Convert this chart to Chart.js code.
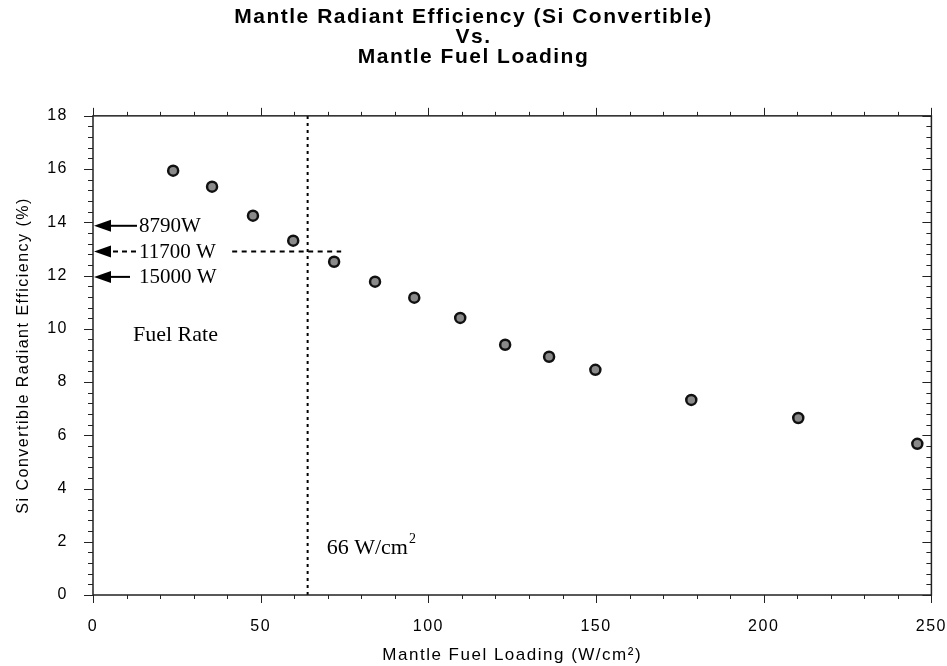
<!DOCTYPE html>
<html>
<head>
<meta charset="utf-8">
<script src="https://cdn.jsdelivr.net/npm/chart.js@4/dist/chart.umd.min.js"></script>
<style>
  html, body { margin: 0; padding: 0; background: #fff; }
  #wrap { width: 947px; height: 666px; }
</style>
</head>
<body>
<div id="wrap"><canvas id="chart" width="947" height="666"></canvas></div>
<script>
// measured points
const fuelLoading = [23.9, 35.5, 47.7, 59.7, 71.9, 84.1, 95.8, 109.5, 122.9, 136.0, 149.8, 178.4, 210.3, 245.8];
const efficiency  = [15.94, 15.34, 14.25, 13.31, 12.52, 11.77, 11.17, 10.41, 9.40, 8.95, 8.46, 7.33, 6.65, 5.68];

// reference lines
const loadingMark = 64;        // 66 W/cm2 line
const fuelRateLevel = 12.9;    // 11700 W level
const fuelRateLabels = ['8790W', '11700 W', '15000 W'];
const fuelRateValues = [13.87, 12.9, 11.95];

const titleLines = ['Mantle Radiant Efficiency (Si Convertible)', 'Vs.', 'Mantle Fuel Loading'];
const xTitle = 'Mantle Fuel Loading (W/cm\u00B2)';
const yTitle = 'Si Convertible Radiant Efficiency (%)';

const sans = 'Arial, "Liberation Sans", sans-serif';
const serif = '"Times New Roman", "Liberation Serif", serif';

const points = fuelLoading.map((x, i) => ({ x: x, y: efficiency[i] }));

// wide letter spacing like the original print
const spacing = {
    id: 'spacing',
    beforeUpdate(chart) { chart.ctx.letterSpacing = '1.5px'; },
    beforeDraw(chart) { chart.ctx.letterSpacing = '1.5px'; }
};

// frame + tick marks + text notes
const extras = {
    id: 'extras',
    afterDraw(chart) {
        const ctx = chart.ctx;
        const xs = chart.scales.x, ys = chart.scales.y;
        const a = chart.chartArea;
        ctx.save();
        ctx.letterSpacing = '0px';
        ctx.strokeStyle = '#222';
        ctx.lineWidth = 1.5;
        ctx.strokeRect(a.left, a.top, a.right - a.left, a.bottom - a.top);

        ctx.lineWidth = 1;
        ctx.beginPath();
        for (let v = 0; v <= 250; v += 10) {
            const px = Math.round(xs.getPixelForValue(v)) + 0.5;
            const len = v % 50 === 0 ? 8 : 4;
            ctx.moveTo(px, a.bottom); ctx.lineTo(px, a.bottom + len);
            ctx.moveTo(px, a.top); ctx.lineTo(px, a.top - len);
        }
        for (let k = 0; k <= 45; k++) {
            const v = k * 0.4;
            const py = Math.round(ys.getPixelForValue(v)) + 0.5;
            const len = k % 5 === 0 ? 9 : 5;
            ctx.moveTo(a.left, py); ctx.lineTo(a.left - len, py);
            ctx.moveTo(a.right, py); ctx.lineTo(a.right - len, py);
        }
        ctx.stroke();

        // fuel rate arrows
        ctx.fillStyle = '#000';
        ctx.strokeStyle = '#000';
        ctx.font = '21px ' + serif;
        ctx.textBaseline = 'middle';
        ctx.textAlign = 'left';
        const tip = a.left + 1;
        fuelRateValues.forEach((v, i) => {
            const py = ys.getPixelForValue(v);
            ctx.beginPath();
            ctx.moveTo(tip, py);
            ctx.lineTo(tip + 17, py - 6);
            ctx.lineTo(tip + 17, py + 6);
            ctx.closePath();
            ctx.fill();
            ctx.lineWidth = 2;
            ctx.beginPath();
            if (i === 1) {
                ctx.setLineDash([5, 4]);
                ctx.moveTo(tip + 19, py); ctx.lineTo(tip + 42, py);
            } else {
                ctx.setLineDash([]);
                ctx.moveTo(tip + 16, py); ctx.lineTo(tip + (i === 0 ? 43 : 36), py);
            }
            ctx.stroke();
            ctx.setLineDash([]);
            ctx.fillText(fuelRateLabels[i], tip + 45, py + 1);
        });

        ctx.font = '22px ' + serif;
        ctx.fillText('Fuel Rate', a.left + 40, ys.getPixelForValue(9.75));

        const lx = xs.getPixelForValue(loadingMark) + 19;
        const ly = ys.getPixelForValue(1.75);
        ctx.font = '22px ' + serif;
        ctx.fillText('66 W/cm', lx, ly);
        const w = ctx.measureText('66 W/cm').width;
        ctx.font = '14px ' + serif;
        ctx.fillText('2', lx + w + 1, ly - 9);
        ctx.restore();
    }
};

new Chart(document.getElementById('chart'), {
    type: 'scatter',
    data: {
        datasets: [
            {
                data: points,
                pointRadius: 5,
                pointHoverRadius: 5,
                backgroundColor: '#8a8a8a',
                borderColor: '#111',
                borderWidth: 2.5
            },
            {
                data: [{ x: loadingMark, y: 0 }, { x: loadingMark, y: 18 }],
                showLine: true,
                pointRadius: 0,
                borderColor: '#000',
                borderWidth: 2,
                borderDash: [3, 4]
            },
            {
                data: [{ x: 41.5, y: fuelRateLevel }, { x: 74, y: fuelRateLevel }],
                showLine: true,
                pointRadius: 0,
                borderColor: '#000',
                borderWidth: 2,
                borderDash: [5, 4.5]
            }
        ]
    },
    options: {
        responsive: false,
        animation: false,
        layout: { padding: 0 },
        plugins: {
            legend: { display: false },
            tooltip: { enabled: false },
            title: {
                display: true,
                text: titleLines,
                color: '#000',
                font: { family: sans, size: 21, weight: 'bold', lineHeight: 0.95 },
                padding: { top: 7, bottom: 49 }
            }
        },
        scales: {
            x: {
                type: 'linear',
                min: 0, max: 250,
                grid: { display: false, tickLength: 22 },
                border: { display: false },
                ticks: { stepSize: 50, color: '#000', font: { family: sans, size: 16 }, padding: 0, maxRotation: 0 },
                title: { display: true, text: xTitle, color: '#000', font: { family: sans, size: 17 }, padding: { top: 6, bottom: 0 } },
                afterFit(scale) { scale.height = 71; }
            },
            y: {
                type: 'linear',
                min: 0, max: 18,
                grid: { display: false },
                border: { display: false },
                ticks: { stepSize: 2, color: '#000', font: { family: sans, size: 16 }, padding: 17 },
                title: { display: true, text: yTitle, color: '#000', font: { family: sans, size: 16 }, padding: { top: 14, bottom: 6 } },
                afterFit(scale) { scale.width = 93; }
            }
        }
    },
    plugins: [spacing, extras]
});
</script>
</body>
</html>
